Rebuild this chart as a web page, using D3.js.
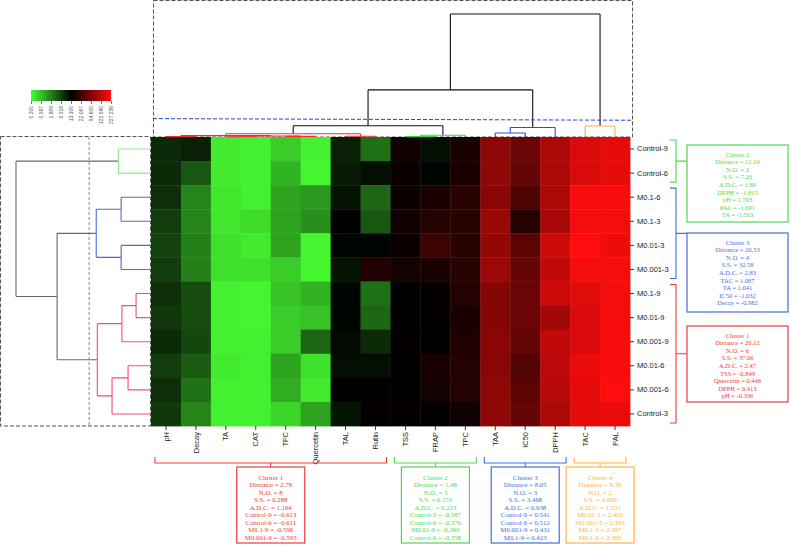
<!DOCTYPE html>
<html><head><meta charset="utf-8">
<script src="https://cdn.jsdelivr.net/npm/d3@7"></script>
<style>body{margin:0;background:#fff}svg{display:block}</style>
</head><body><svg id="c" width="790" height="546"></svg>
<script>
// ---------------- DATA ----------------
const samples = ["Control-9","Control-6","M0.1-6","M0.1-3","M0.01-3","M0.001-3","M0.1-9","M0.01-9","M0.001-9","M0.01-6","M0.001-6","Control-3"];
const variables = ["pH","Decay","TA","CAT","TFC","Quercetin","TAL","Rutin","TSS","FRAP","TPC","TAA","IC50","DPPH","TAC","PAL"];
const legendTicks = ["0.200","0.587","1.809","5.518","13.100","22.067","54.600","122.590","227.236"];
// cell values as position on the colour legend (0 = green end, 100 = red end), one array per variable, in sample order
const vPH        = [42,42,41,38,37,38,41,39,42,38,41,39];
const vDecay     = [44,33,24,24,25,25,35,35,36,32,28,24];
const vTA        = [4,4,5,5,6,6,3,3,3,4,3,3];
const vCAT       = [3,3,3,7,4,6,2,2,3,3,3,3];
const vTFC       = [10,15,18,18,18,10,12,10,10,18,16,8];
const vQuercetin = [3,2,20,22,2,2,15,12,30,6,4,18];
const vTAL       = [44,45,46,50,49,46,49,49,48,47,50,46];
const vRutin     = [28,47,30,33,49,56,28,30,42,47,50,51];
const vTSS       = [53,52,52,53,52,54,50,50,51,50,50,51];
const vFRAP      = [47,49,55,57,62,55,51,51,50,55,54,50];
const vTPC       = [55,55,58,58,58,58,57,55,56,57,57,53];
const vTAA       = [78,78,77,80,79,81,76,76,77,77,78,78];
const vIC50      = [71,70,65,57,68,70,71,71,70,66,68,70];
const vDPPH      = [84,84,84,83,90,88,90,82,88,87,86,84];
const vTAC       = [93,93,99,98,100,98,94,93,93,96,95,95];
const vPAL       = [95,95,99,98,97,98,98,98,99,99,100,96];
const columns = [vPH,vDecay,vTA,vCAT,vTFC,vQuercetin,vTAL,vRutin,vTSS,vFRAP,vTPC,vTAA,vIC50,vDPPH,vTAC,vPAL];

// dendrograms (h = merge distance, leaf = index)
const colTree = {h:105, children:[
  {h:40.2, children:[
    {h:9.66, children:[
      {h:2.78, color:"red", children:[
        {h:1.2, children:[{h:0.3, children:[{leaf:0},{leaf:1}]},
                          {h:0.8, children:[{h:0.2, children:[{leaf:2},{leaf:3}]},{h:0.5, children:[{leaf:4},{leaf:5}]}]}]},
        {h:0.6, children:[{leaf:6},{leaf:7}]}]},
      {h:1.48, color:"green", children:[{h:0.3, children:[{leaf:8},{leaf:9}]},{leaf:10}]}]},
    {h:8.05, color:"blue", children:[{h:3.4, children:[{leaf:11},{leaf:12}]},{leaf:13}]}]},
  {h:9.39, color:"orange", children:[{leaf:14},{leaf:15}]}]};
const rowTree = {h:50.6, children:[
  {h:12.19, color:"green", children:[{leaf:0},{leaf:1}]},
  {h:35.2, children:[
    {h:20.53, color:"blue", children:[{h:11.2, children:[{leaf:2},{leaf:3}]},{h:11.2, children:[{leaf:4},{leaf:5}]}]},
    {h:20.12, color:"red", children:[
      {h:10.9, children:[{h:5.6, children:[{leaf:6},{leaf:7}]},{leaf:8}]},
      {h:14.6, children:[{h:8.6, children:[{leaf:9},{leaf:10}]},{leaf:11}]}]}]}]};
const colCut = 15, rowCut = 23.2;

// cluster annotation boxes
const rowBoxGreen = ["Cluster 2","Distance = 12.19","N.O. = 2","S.S. = 7.20","A.D.C. = 1.89","DPPH = -1.815","pH = 1.703","PAL = -1.691","TA = -1.503"];
const rowBoxBlue  = ["Cluster 3","Distance = 20.53","N.O. = 4","S.S. = 32.58","A.D.C. = 2.83","TAC = 1.087","TA = 1.041","IC50 = -1.032","Decay = -0.982"];
const rowBoxRed   = ["Cluster 1","Distance = 20.12","N.O. = 6","S.S. = 37.06","A.D.C. = 2.47","TSS = -0.849","Quercetin = 0.448","DPPH = 0.413","pH = -0.336"];
const colBoxRed    = ["Cluster 1","Distance = 2.78","N.O. = 8","S.S. = 0.288","A.D.C. = 1.164","Control-9 = -0.613","Control-6 = -0.611","M0.1-9 = -0.596","M0.001-9 = -0.593"];
const colBoxGreen  = ["Cluster 2","Distance = 1.48","N.O. = 3","S.S. = 0.153","A.D.C. = 0.223","Control-3 = -0.387","Control-6 = -0.376","M0.01-9 = -0.369","Control-9 = -0.358"];
const colBoxBlue   = ["Cluster 3","Distance = 8.05","N.O. = 3","S.S. = 3.468","A.D.C. = 0.938","Control-9 = 0.541","Control-6 = 0.512","M0.001-9 = 0.431","M0.1-9 = 0.423"];
const colBoxOrange = ["Cluster 4","Distance = 9.39","N.O. = 2","S.S. = 4.690","A.D.C. = 1.531","M0.01-3 = 2.409","M0.001-3 = 2.393","M0.1-3 = 2.387","M0.1-6 = 2.386"];

// ---------------- DRAW ----------------
const svg = d3.select("#c");
const HM = {x0:151, x1:630, y0:137, y1:426};
const topPal = {black:"#111", red:"#ee2f2f", green:"#3fd23f", blue:"#2a4de8", orange:"#ffab55"};
const leftPal = {black:"#6a6a6a", red:"#f0507a", green:"#8fe88f", blue:"#5565e0", orange:"#ffab55"};
const boxPal = {red:"#ee3a3a", green:"#4fd84f", blue:"#3f6fe0", orange:"#ffb347"};

const xBand = d3.scaleBand().domain(d3.range(variables.length)).range([HM.x0, HM.x1]);
const yBand = d3.scaleBand().domain(d3.range(samples.length)).range([HM.y0, HM.y1]);
const color = d3.scaleLinear().domain([0,50,100])
  .range(["rgb(72,255,50)","rgb(0,0,0)","rgb(255,12,12)"]).interpolate(d3.interpolateRgb);

// dashed frames
const frames = svg.append("g").attr("fill","none").attr("stroke","#555").attr("stroke-dasharray","4,2").attr("stroke-width",1);
frames.append("rect").attr("x",153.5).attr("y",0.5).attr("width",479).attr("height",136.5);
frames.append("rect").attr("x",0.5).attr("y",136.5).attr("width",150).attr("height",289.5);

// heatmap cells
const cells = [];
columns.forEach((col,j)=>col.forEach((v,i)=>cells.push({i,j,v})));
svg.append("g").selectAll("rect").data(cells).join("rect")
  .attr("x",d=>xBand(d.j)).attr("y",d=>yBand(d.i))
  .attr("width",xBand.bandwidth()+0.4).attr("height",yBand.bandwidth()+0.4)
  .attr("fill",d=>color(d.v));

// dendrogram helper
function layout(tree, leafPos){
  const root = d3.hierarchy(tree);
  root.eachBefore(n=>{ n.col = n.data.color || (n.parent ? n.parent.col : "black"); });
  root.eachAfter(n=>{
    if (n.children){ n.p = (n.children[0].p + n.children[n.children.length-1].p)/2; n.hh = n.data.h; }
    else { n.p = leafPos(n.data.leaf); n.hh = 0; }
  });
  return root;
}
// top (column) dendrogram
const hTop = d3.scaleLinear().domain([0,105]).range([HM.y0,14]);
const colRoot = layout(colTree, j=>xBand(j)+xBand.bandwidth()/2);
const gTop = svg.append("g").attr("fill","none").attr("stroke-width",1.1);
colRoot.each(n=>{
  if(!n.children) return;
  const y = hTop(n.hh);
  let d = `M${n.children[0].p},${y}H${n.children[n.children.length-1].p}`;
  n.children.forEach(c=>{ d += `M${c.p},${y}V${hTop(c.hh)}`; });
  gTop.append("path").attr("d",d).attr("stroke",topPal[n.col]);
});
svg.append("line").attr("x1",153).attr("x2",632).attr("y1",hTop(colCut)-0.8).attr("y2",hTop(colCut)+0.8)
  .attr("stroke","#2a3fdd").attr("stroke-dasharray","4,2").attr("stroke-width",1);

// left (row) dendrogram
const hLeft = d3.scaleLinear().domain([0,50.6]).range([HM.x0,16]);
const rowRoot = layout(rowTree, i=>yBand(i)+yBand.bandwidth()/2);
const gLeft = svg.append("g").attr("fill","none").attr("stroke-width",1.1);
rowRoot.each(n=>{
  if(!n.children) return;
  const x = hLeft(n.hh);
  let d = `M${x},${n.children[0].p}V${n.children[n.children.length-1].p}`;
  n.children.forEach(c=>{ d += `M${x},${c.p}H${hLeft(c.hh)}`; });
  gLeft.append("path").attr("d",d).attr("stroke",leftPal[n.col]);
});
svg.append("line").attr("x1",hLeft(rowCut)).attr("x2",hLeft(rowCut)).attr("y1",137).attr("y2",426)
  .attr("stroke","#6070e8").attr("stroke-dasharray","3,2").attr("stroke-width",0.9);

// axes
const yAxis = d3.axisRight(yBand).tickSize(4).tickPadding(3).tickFormat(i=>samples[i]);
const gy = svg.append("g").attr("transform",`translate(${HM.x1},0)`).call(yAxis);
gy.select(".domain").remove();
gy.selectAll("text").attr("font-family","Liberation Sans, Arial, sans-serif").attr("font-size",7.5).attr("fill","#222");
gy.selectAll("line").attr("stroke","#333");

const xAxis = d3.axisBottom(xBand).tickSize(4).tickFormat(j=>variables[j]);
const gx = svg.append("g").attr("transform",`translate(0,${HM.y1})`).call(xAxis);
gx.select(".domain").remove();
gx.selectAll("text").attr("transform","rotate(-90)").attr("text-anchor","end")
  .attr("x",-6).attr("y",0).attr("dy","0.35em")
  .attr("font-family","Liberation Sans, Arial, sans-serif").attr("font-size",7.5).attr("fill","#222");
gx.selectAll("line").attr("stroke","#333");

// legend
const defs = svg.append("defs");
const grad = defs.append("linearGradient").attr("id","lg");
d3.range(0,101,10).forEach(t=>grad.append("stop").attr("offset",t+"%").attr("stop-color",color(t)));
svg.append("rect").attr("x",31).attr("y",90).attr("width",80).attr("height",11).attr("fill","url(#lg)");
const lx = d3.scalePoint().domain(legendTicks).range([31,111]);
const gl = svg.append("g").attr("transform","translate(0,101)").call(d3.axisBottom(lx).tickSize(3));
gl.select(".domain").remove();
gl.selectAll("line").attr("stroke","#777");
gl.selectAll("text").attr("transform","rotate(-90)").attr("text-anchor","end")
  .attr("x",-5).attr("y",0).attr("dy","0.35em")
  .attr("font-family","Liberation Sans, Arial, sans-serif").attr("font-size",5).attr("fill","#555");

// brackets & boxes
function textBox(lines, x, y, w, h, col, fs, lh, first){
  const g = svg.append("g");
  g.append("rect").attr("x",x).attr("y",y).attr("width",w).attr("height",h)
    .attr("fill","#fff").attr("stroke",col).attr("stroke-width",1.2);
  g.selectAll("text").data(lines).join("text")
    .attr("x",x+w/2).attr("y",(d,k)=>y+first+k*lh).attr("text-anchor","middle")
    .attr("font-family","Liberation Serif, Times New Roman, serif").attr("font-size",fs).attr("fill",col).text(d=>d);
}
// right (row clusters)
const rowGroups = [
  {a:0,b:1,col:boxPal.green,lines:rowBoxGreen,top:145,h:77},
  {a:2,b:5,col:boxPal.blue,lines:rowBoxBlue,top:233,h:79},
  {a:6,b:11,col:boxPal.red,lines:rowBoxRed,top:326,h:76}];
rowGroups.forEach(g=>{
  const y0 = yBand(g.a)+3, y1 = yBand(g.b)+yBand.bandwidth()-3, bx = 676, ym = (y0+y1)/2;
  svg.append("path").attr("d",`M${bx-6},${y0}H${bx}V${y1}H${bx-6}M${bx},${ym}H687`)
    .attr("fill","none").attr("stroke",g.col).attr("stroke-width",1.1);
  textBox(g.lines,687,g.top,101,g.h,g.col,6.5,7.6,11.5);
});
// bottom (column clusters)
const colGroups = [
  {a:0,b:7,col:boxPal.red,lines:colBoxRed},
  {a:8,b:10,col:boxPal.green,lines:colBoxGreen},
  {a:11,b:13,col:boxPal.blue,lines:colBoxBlue},
  {a:14,b:15,col:boxPal.orange,lines:colBoxOrange}];
colGroups.forEach(g=>{
  const x0 = xBand(g.a)+4, x1 = xBand(g.b)+xBand.bandwidth()-4, by = 463, xm = (x0+x1)/2;
  svg.append("path").attr("d",`M${x0},${by-6}V${by}H${x1}V${by-6}M${xm},${by}V467`)
    .attr("fill","none").attr("stroke",g.col).attr("stroke-width",1.1);
  textBox(g.lines,xm-34,467,68,76,g.col,6.8,7.5,12.5);
});
</script>
</body></html>
